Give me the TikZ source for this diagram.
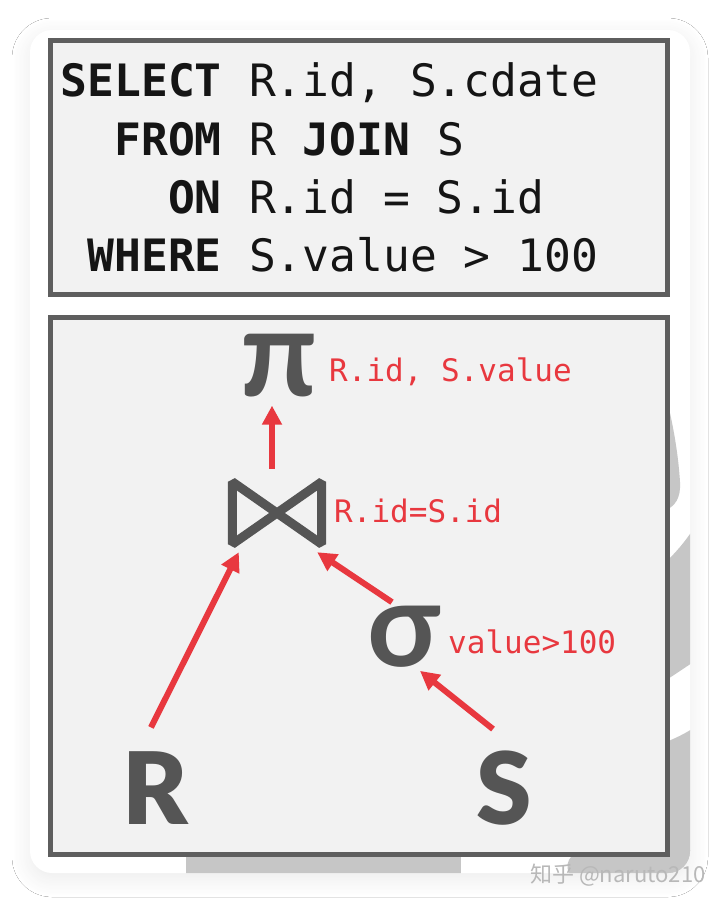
\documentclass[tikz,border=0pt]{standalone}
\usepackage{fontspec}
\setmonofont{DejaVu Sans Mono}
\newfontfamily\opfont{Lato}
\newfontfamily\relfont{Lato Black}
\newfontfamily\cjkfont{Noto Sans CJK SC}
\usetikzlibrary{arrows.meta, shadows.blur}

\definecolor{panelgray}{HTML}{F2F2F2}
\definecolor{bordergray}{HTML}{5E5E5E}
\definecolor{opgray}{HTML}{555555}
\definecolor{dbgray}{HTML}{C6C6C6}
\definecolor{planred}{HTML}{E8383F}
\definecolor{sqlblack}{HTML}{151515}

\tikzset{
  panel/.style={draw=bordergray, fill=panelgray, line width=5pt},
  keyword/.style={anchor=base east, inner sep=0pt, text=sqlblack, font=\ttfamily\bfseries\fontsize{44.6}{54}\selectfont},
  clause/.style={anchor=base west, inner sep=0pt, text=sqlblack, font=\ttfamily\fontsize{44.6}{54}\selectfont},
  opnode/.style={inner sep=0pt, text=opgray, font=\opfont\bfseries\fontsize{122}{122}\selectfont},
  relnode/.style={inner sep=0pt, text=opgray, font=\relfont\fontsize{100}{100}\selectfont},
  oplabel/.style={anchor=base west, inner sep=0pt, text=planred, font=\ttfamily\fontsize{31}{36}\selectfont},
  flow/.style={draw=planred, line width=6pt, -{Triangle[width=19pt, length=19pt]}},
  bowtie/.style={draw=opgray, line width=9pt, line join=bevel},
}

\begin{document}
\begin{tikzpicture}[x=1pt, y=-1pt]
\useasboundingbox (0,0) rectangle (720,903);
\fill[white] (0,0) rectangle (720,903);

% card with shadow
\fill[white, rounded corners=22pt, blur shadow={shadow xshift=0pt, shadow yshift=-6pt, shadow blur radius=18pt, shadow blur steps=14, shadow opacity=8}] (30,30) rectangle (690,873);

% database cylinder behind the panels
\begin{scope}
  \clip[rounded corners=22pt] (30,30) rectangle (690,873);
  \fill[dbgray] (186,850) rectangle (461,880);
  \fill[dbgray] (580,850) .. controls (565,858) and (565,868) .. (572,880) -- (700,880) -- (700,850) -- cycle;
  \fill[dbgray] (666,396) .. controls (672,420) and (678,450) .. (680,482) .. controls (681,498) and (675,506) .. (666,510) -- cycle;
  \fill[dbgray] (666,562) .. controls (676,552) and (684,543) .. (692,531) -- (692,663) .. controls (684,668) and (676,674) .. (666,680) -- cycle;
  \fill[dbgray] (666,742) .. controls (676,738) and (684,734) .. (692,729) -- (692,880) -- (666,880) -- cycle;
\end{scope}

% panels
\draw[panel] (50.5,40) rectangle (667,294.5);
\draw[panel] (50.5,317.5) rectangle (667,854.5);

% query
\node[keyword] (kw-select) at (222,96.7) {SELECT};
\node[clause] (cl-select) at (kw-select.base east) {\ R.id, S.cdate};
\node[keyword] (kw-from) at (222,155) {FROM};
\node[clause] (cl-from) at (kw-from.base east) {\ R \textbf{JOIN} S};
\node[keyword] (kw-on) at (222,213.4) {ON};
\node[clause] (cl-on) at (kw-on.base east) {\ R.id = S.id};
\node[keyword] (kw-where) at (222,271.7) {WHERE};
\node[clause] (cl-where) at (kw-where.base east) {\ S.value > 100};

% plan operators
\node[opnode, minimum width=67pt, minimum height=62pt] (proj) at (279.5,366) {π};
\node[opnode, minimum width=89pt, minimum height=62pt] (join) at (277,513) {};
\node[opnode, minimum width=69pt, minimum height=60pt, font=\opfont\bfseries\fontsize{118}{118}\selectfont] (select) at (403.5,637) {σ};
\node[relnode, minimum width=62pt, minimum height=72pt] (rel-r) at (155,788) {R};
\node[relnode, minimum width=55pt, minimum height=73pt] (rel-s) at (504.5,788.5) {S};

\draw[bowtie] (join.north west) -- (join.south east) -- (join.north east) -- (join.south west) -- cycle;

% operator labels
\node[oplabel] (lbl-proj) at (329,381.5) {R.id, S.value};
\node[oplabel] (lbl-join) at (334,522) {R.id=S.id};
\node[oplabel] (lbl-select) at (448,653) {value>100};

% data flow
\draw[flow] ([shift={(-5,-13)}]join.north) -- ([shift={(-7.5,8)}]proj.south);
\draw[flow] ([shift={(-4,-24)}]rel-r.north) -- ([shift={(6.5,8)}]join.south west);
\draw[flow] ([shift={(-11.5,-4)}]select.north) -- ([shift={(-4.5,8)}]join.south east);
\draw[flow] ([shift={(-11.5,-22)}]rel-s.north) -- ([shift={(16.5,3)}]select.south);

% watermark
\node[anchor=base west, inner sep=0pt, text=black!28, font=\cjkfont\fontsize{22}{26}\selectfont] (mark) at (530,882) {知乎 @naruto210};
\end{tikzpicture}
\end{document}
